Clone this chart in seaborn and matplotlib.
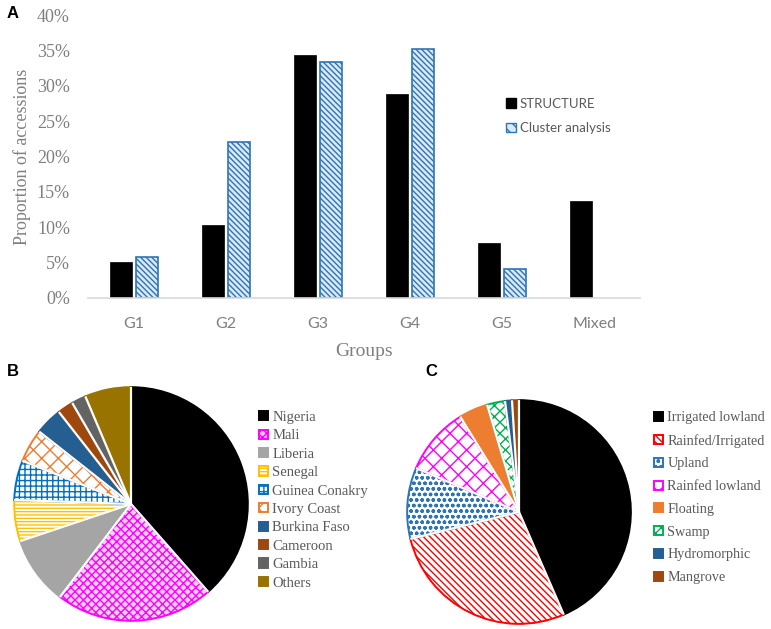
import numpy as np
import pandas as pd
import matplotlib
matplotlib.use("Agg")
import matplotlib.pyplot as plt
import matplotlib.patches as mpatches
from matplotlib.ticker import PercentFormatter
import seaborn as sns

# ---------------- data ----------------
groups = ["G1", "G2", "G3", "G4", "G5", "Mixed"]
structure = [0.051, 0.103, 0.343, 0.289, 0.078, 0.137]
cluster = [0.058, 0.220, 0.333, 0.352, 0.041, 0.0]
methods = ["STRUCTURE", "Cluster analysis"]

countries = ["Nigeria", "Mali", "Liberia", "Senegal", "Guinea Conakry",
             "Ivory Coast", "Burkina Faso", "Cameroon", "Gambia", "Others"]
country_share = [38.6, 21.9, 9.5, 5.7, 5.5, 4.6, 3.8, 2.2, 2.0, 6.4]

ecologies = ["Irrigated lowland", "Rainfed/Irrigated", "Upland", "Rainfed lowland",
             "Floating", "Swamp", "Hydromorphic", "Mangrove"]
ecology_share = [43.5, 27.7, 10.3, 9.8, 4.2, 2.6, 1.0, 1.0]

# ---------------- style ----------------
sns.set_theme(style="white")
plt.rcParams["font.family"] = ["DejaVu Sans"]
plt.rcParams["hatch.linewidth"] = 1.0
SERIF = "Liberation Serif"
SANS = "Lato"
GREY = "#7f7f7f"
LGREY = "#595959"

W, H = 771, 629
fig = plt.figure(figsize=(W / 100, H / 100), dpi=100)

# ---------------- panel A ----------------
axA = fig.add_axes([88 / W, 1 - 298 / H, 552 / W, 283 / H])
df = pd.DataFrame({
    "Group": groups * 2,
    "Value": structure + cluster,
    "Method": [methods[0]] * len(groups) + [methods[1]] * len(groups),
})
sns.barplot(data=df, x="Group", y="Value", hue="Method", order=groups,
            hue_order=methods, palette=["black", "white"], width=0.56,
            gap=0.16, ax=axA, legend=False, errorbar=None)
BLUE = "#2e75b6"
for p in axA.containers[0]:
    p.set_facecolor("black")
    p.set_edgecolor("black")
    p.set_linewidth(0.5)
for p in axA.containers[1]:
    p.set_facecolor("#dbe9f6")
    p.set_edgecolor(BLUE)
    p.set_hatch("\\\\\\\\\\\\")
    p.set_linewidth(1.2)
    if p.get_height() == 0:
        p.set_visible(False)

axA.set_xlim(-0.5, 5.5)
axA.set_ylim(0, 0.40)
axA.set_yticks(np.arange(0, 0.41, 0.05))
axA.yaxis.set_major_formatter(PercentFormatter(1.0, decimals=0))
for s in ["left", "top", "right"]:
    axA.spines[s].set_visible(False)
axA.spines["bottom"].set_color("#d9d9d9")
axA.spines["bottom"].set_linewidth(1.2)
axA.tick_params(axis="y", length=0, pad=13, labelsize=13, labelcolor=GREY)
axA.tick_params(axis="x", length=0, pad=14, labelsize=11.5, labelcolor=GREY)
for t in axA.get_yticklabels():
    t.set_fontfamily(SERIF)
for t in axA.get_xticklabels():
    t.set_fontfamily(SANS)
axA.set_ylabel("Proportion of accessions", fontfamily=SERIF, fontsize=13,
               color=GREY, labelpad=4)
axA.set_xlabel("Groups", fontfamily=SERIF, fontsize=14, color=GREY, labelpad=8)
axA.grid(False)

hA = [mpatches.Patch(facecolor="black", edgecolor="black"),
      mpatches.Patch(facecolor="#dbe9f6", edgecolor=BLUE, hatch="\\\\\\")]
axA.legend(hA, methods, loc="center left", bbox_to_anchor=(506 / W, 1 - 116 / H),
           bbox_transform=fig.transFigure, frameon=False,
           prop={"family": SANS, "size": 9.5}, labelcolor=LGREY,
           handlelength=0.75, handleheight=0.75, handletextpad=0.3,
           labelspacing=0.95, borderpad=0, borderaxespad=0)

# ---------------- pie helper ----------------
def draw_pie(ax, values, styles):
    wedges, _ = ax.pie(values, startangle=90, counterclock=False, radius=1.0,
                       wedgeprops={"linewidth": 1.4})
    for w, (fc, ec, hatch) in zip(wedges, styles):
        w.set_facecolor(fc)
        w.set_edgecolor(ec)
        if hatch:
            w.set_hatch(hatch)
    for w in wedges:
        a = np.deg2rad(w.theta1)
        ax.plot([0, np.cos(a)], [0, np.sin(a)], color="white", lw=1.6,
                solid_capstyle="butt", zorder=5)
    ax.set_xlim(-1.01, 1.01)
    ax.set_ylim(-1.01, 1.01)
    ax.set_aspect("equal")
    ax.axis("off")
    return wedges

# ---------------- panel B ----------------
cxB, cyB, rB = 131, 504, 118
axB = fig.add_axes([(cxB - rB) / W, 1 - (cyB + rB) / H, 2 * rB / W, 2 * rB / H])
stylesB = [
    ("black", "black", None),
    ("#fbd0fb", "#ff00ff", "xxxx"),
    ("#a5a5a5", "#a5a5a5", None),
    ("white", "#ffc000", "-----"),
    ("white", "#0070c0", "+++"),
    ("white", "#ed7d31", "xx"),
    ("#255e91", "#255e91", None),
    ("#9e480e", "#9e480e", None),
    ("#636363", "#636363", None),
    ("#997300", "#997300", None),
]
wB = draw_pie(axB, country_share, stylesB)
fig.legend(wB, countries, loc="upper left", bbox_to_anchor=(259 / W, 1 - 411 / H),
           frameon=False, prop={"family": SERIF, "size": 10.5}, labelcolor=LGREY,
           handlelength=0.6, handleheight=0.6, handletextpad=0.3,
           labelspacing=0.37, borderpad=0, borderaxespad=0)

# ---------------- panel C ----------------
cxC, cyC, rC = 519, 512, 113
axC = fig.add_axes([(cxC - rC) / W, 1 - (cyC + rC) / H, 2 * rC / W, 2 * rC / H])
stylesC = [
    ("black", "black", None),
    ("white", "#ff0000", "\\\\\\\\\\"),
    ("white", "#2e75b6", "ooo"),
    ("white", "#ff00ff", "xx"),
    ("#ed7d31", "#ed7d31", None),
    ("white", "#00b050", "xxx"),
    ("#255e91", "#255e91", None),
    ("#9e480e", "#9e480e", None),
]
wC = draw_pie(axC, ecology_share, stylesC)
fig.legend(wC, ecologies, loc="upper left", bbox_to_anchor=(654 / W, 1 - 411 / H),
           frameon=False, prop={"family": SERIF, "size": 10.2}, labelcolor=LGREY,
           handlelength=0.6, handleheight=0.6, handletextpad=0.35,
           labelspacing=0.69, borderpad=0, borderaxespad=0)

# ---------------- panel letters ----------------
for lab, x, y in [("A", 7, 13), ("B", 7, 372), ("C", 425, 372)]:
    fig.text(x / W, 1 - y / H, lab, fontsize=12, fontweight="bold",
             fontfamily="Liberation Sans", color="black", va="center", ha="left")

fig.savefig("out.png", dpi=100)
